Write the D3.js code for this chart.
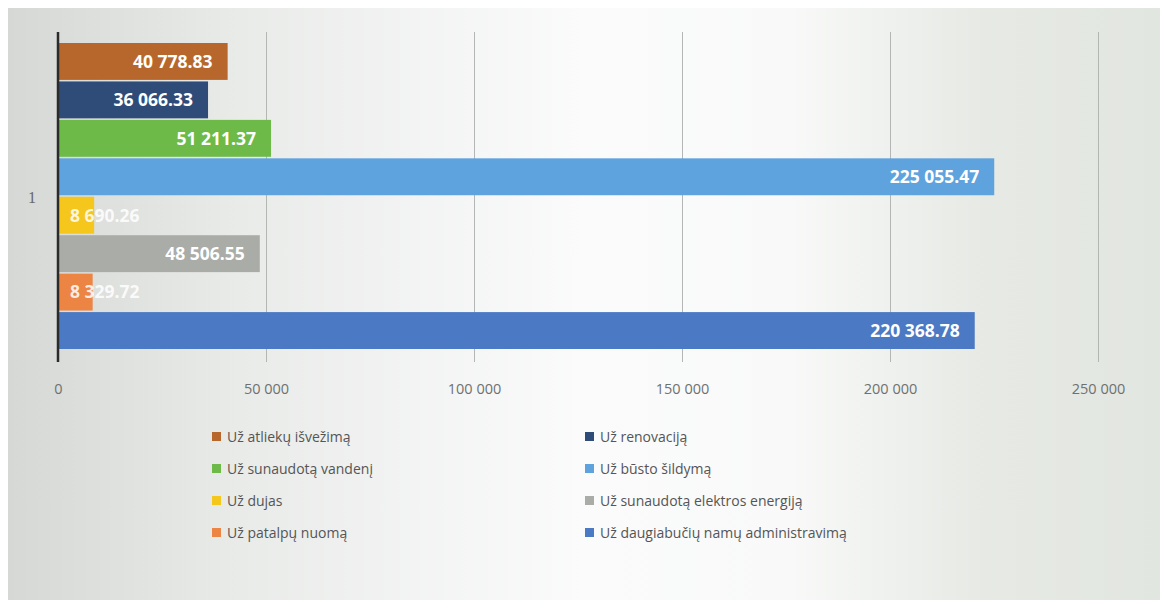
<!DOCTYPE html>
<html>
<head>
<meta charset="utf-8">
<script src="https://cdn.jsdelivr.net/npm/d3@7"></script>
<style>
  body { margin: 0; background: #fff; }
  svg { display: block; }
</style>
</head>
<body>
<script>
// data
const category = "1";
const series = [
  "Už atliekų išvežimą",
  "Už renovaciją",
  "Už sunaudotą vandenį",
  "Už būsto šildymą",
  "Už dujas",
  "Už sunaudotą elektros energiją",
  "Už patalpų nuomą",
  "Už daugiabučių namų administravimą"
];
const values = [40778.83, 36066.33, 51211.37, 225055.47, 8690.26, 48506.55, 8329.72, 220368.78];
const colors = ["#b8672c", "#2f4c78", "#6dba48", "#5ea2de", "#f5c61c", "#aaaca7", "#ec8443", "#4b79c4"];
const ticks = [0, 50000, 100000, 150000, 200000, 250000];

const W = 1160, H = 600;
const svg = d3.select("body").append("svg")
  .attr("width", W)
  .attr("height", H);

// scanned paper look: grey edges, lighter middle
const defs = svg.append("defs");
const grad = defs.append("linearGradient").attr("id", "bg").attr("x1", "0").attr("x2", "1");
grad.append("stop").attr("offset", "0").attr("stop-color", "#d5d8d4");
grad.append("stop").attr("offset", "0.2").attr("stop-color", "#e9ebe9");
grad.append("stop").attr("offset", "0.5").attr("stop-color", "#fbfbfc");
grad.append("stop").attr("offset", "0.68").attr("stop-color", "#f8f9f8");
grad.append("stop").attr("offset", "0.85").attr("stop-color", "#e6e9e4");
grad.append("stop").attr("offset", "1").attr("stop-color", "#e2e6e0");
svg.append("rect").attr("x", 8).attr("y", 8).attr("width", W - 8).attr("height", H - 8)
  .attr("fill", "url(#bg)");

const x = d3.scaleLinear().domain([0, 250000]).range([58, 1098]);
const y = d3.scaleBand().domain(series).range([43, 349]).paddingInner(0.04);
const plotTop = 32, plotBottom = 362;

// gridlines
svg.append("g")
  .selectAll("line")
  .data(ticks.slice(1))
  .join("line")
  .attr("x1", d => Math.round(x(d)) + 0.5).attr("x2", d => Math.round(x(d)) + 0.5)
  .attr("y1", plotTop).attr("y2", plotBottom)
  .attr("stroke", "#b4b6b4")
  .attr("stroke-width", 1);

// x axis tick labels
const xAxis = d3.axisBottom(x)
  .tickValues(ticks)
  .tickSize(0)
  .tickPadding(0)
  .tickFormat(d => d3.format(",")(d).replace(/,/g, " "));
const gx = svg.append("g").attr("transform", `translate(0, 384)`).call(xAxis);
gx.select(".domain").remove();
gx.selectAll("text")
  .attr("font-family", "'Open Sans', sans-serif")
  .attr("font-size", 14.5)
  .attr("fill", "#6f716f");

// bars
svg.append("g")
  .selectAll("rect")
  .data(series)
  .join("rect")
  .attr("x", x(0))
  .attr("y", d => y(d))
  .attr("width", (d, i) => x(values[i]) - x(0))
  .attr("height", y.bandwidth())
  .attr("fill", (d, i) => colors[i]);

// value labels
const fmt = v => d3.format(",.2f")(v).replace(/,/g, " ");
const labels = svg.append("g")
  .selectAll("text")
  .data(series)
  .join("text")
  .attr("y", d => y(d) + y.bandwidth() / 2)
  .attr("dy", "0.36em")
  .attr("font-family", "'Open Sans', sans-serif")
  .attr("font-weight", 700)
  .attr("font-size", 17.5)
  .attr("fill", "#ffffff")
  .text((d, i) => fmt(values[i]));
labels.each(function(d, i) {
  const t = d3.select(this);
  const w = this.getComputedTextLength();
  const barW = x(values[i]) - x(0);
  if (w + 24 > barW) {
    t.attr("x", x(0) + 12).attr("text-anchor", "start").attr("fill-opacity", 0.85);
  } else {
    t.attr("x", x(values[i]) - 15).attr("text-anchor", "end");
  }
});

// category axis
svg.append("line")
  .attr("x1", x(0)).attr("x2", x(0))
  .attr("y1", plotTop).attr("y2", plotBottom)
  .attr("stroke", "#2b2b2b")
  .attr("stroke-width", 2.5);
svg.append("text")
  .attr("x", 32).attr("y", 197).attr("dy", "0.35em")
  .attr("text-anchor", "middle")
  .attr("font-family", "'Liberation Serif', serif")
  .attr("font-size", 16)
  .attr("fill", "#666")
  .text(category);

// legend, two columns
const legend = svg.append("g")
  .selectAll("g")
  .data(series)
  .join("g")
  .attr("transform", (d, i) => `translate(${i % 2 === 0 ? 212 : 585}, ${437 + Math.floor(i / 2) * 32})`);
legend.append("rect")
  .attr("x", 0).attr("y", -5)
  .attr("width", 9).attr("height", 9)
  .attr("fill", (d, i) => colors[i]);
legend.append("text")
  .attr("x", 15).attr("dy", "0.35em")
  .attr("font-family", "'Open Sans', sans-serif")
  .attr("font-size", 14)
  .attr("fill", "#555")
  .text(d => d);
</script>
</body>
</html>
